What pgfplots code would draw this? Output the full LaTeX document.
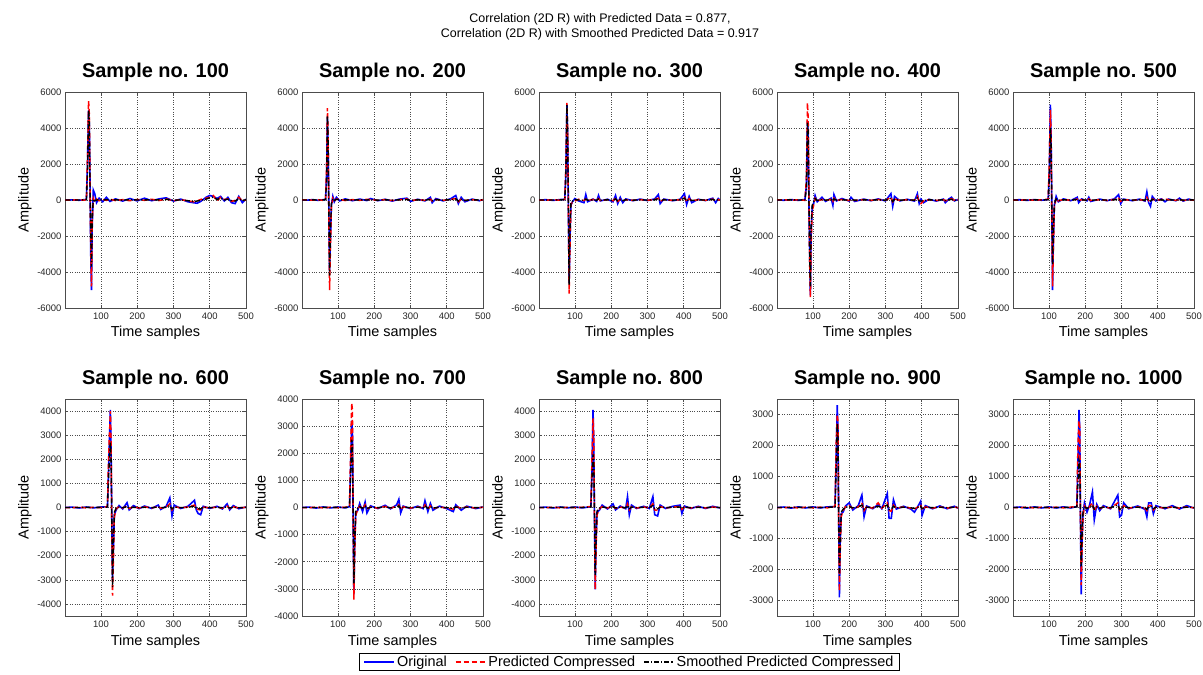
\documentclass[border=0pt]{standalone}
\usepackage{pgfplots}
\usepackage{pgfplotstable}
\pgfplotsset{compat=1.18}
\usepackage{fontspec}
\setmainfont{Liberation Sans}

\pgfplotstableread{
x o p s
1 0 0 0
20 10 -5 0
40 -15 10 0
55 20 -10 5
60 30 40 20
63 2000 2200 1500
66 5000 5500 5000
68 4200 4800 4500
70 1000 800 500
72 -3000 -2500 -2000
74 -5000 -4800 -3700
76 -1500 -1200 -1000
79 550 100 50
83 350 -100 -50
88 -150 50 0
95 100 -40 20
105 -100 30 -10
115 150 -20 20
125 -80 40 0
140 60 -30 10
160 -60 20 -10
180 80 -40 20
200 -50 30 0
220 100 -20 10
240 -40 40 0
260 60 -30 10
280 120 60 40
300 -60 -40 -20
320 50 20 10
340 -100 -50 -40
355 -150 -100 -80
365 -180 -60 -60
375 -80 30 -20
390 150 100 50
400 250 150 120
410 200 250 150
420 80 -50 30
430 200 150 100
440 -50 30 0
450 150 60 50
460 -150 -80 -40
470 -200 -20 -60
480 200 150 80
490 -150 -50 -20
500 50 0 10
}\tA
\pgfplotstableread{
x o p s
1 0 0 0
15 -10 10 0
30 20 -10 5
45 -20 15 0
60 15 -20 5
66 40 30 20
69 1500 2000 1200
71 4600 5100 4700
73 3000 3500 3200
75 -500 -800 -300
77 -4000 -5000 -4200
79 -2500 -3000 -2000
82 -300 -400 -200
86 200 100 50
90 -100 -50 -30
96 150 50 40
105 -50 30 0
120 60 -30 10
140 -40 20 -5
160 50 -20 10
180 -30 40 0
190 80 20 20
210 -40 -20 -10
230 40 20 10
250 -60 -30 -10
270 50 20 10
290 100 60 30
300 -80 -40 -20
320 40 20 10
340 -50 -20 -10
355 150 50 40
360 -150 -60 -40
370 80 30 20
390 -50 -20 -10
410 60 30 20
425 250 80 60
432 -200 -100 -60
440 150 50 40
450 -100 -30 -20
470 50 20 10
490 -40 -20 0
500 20 10 5
}\tB
\pgfplotstableread{
x o p s
1 0 0 0
20 15 -10 0
40 -20 15 0
60 25 -15 5
72 30 40 20
75 1500 1800 1200
78 5300 5400 5300
80 3500 4000 3600
82 -500 -300 -200
84 -4600 -5200 -4700
86 -2500 -3000 -2000
89 -300 -200 -150
93 -100 -150 -80
100 80 -60 20
110 -50 40 0
125 -150 -30 -20
130 300 50 50
135 -100 -20 -10
150 50 30 10
160 -80 -20 -10
165 250 80 60
170 -50 -30 -10
190 40 20 10
205 -100 -40 -20
212 250 100 60
218 -200 -80 -50
225 150 40 30
232 -150 -60 -30
240 60 20 10
260 -40 -20 -10
280 50 20 10
300 -30 -20 -5
320 60 30 10
330 300 100 80
335 -200 -80 -40
345 50 20 10
370 -40 -20 -5
390 40 20 10
402 350 150 100
408 -250 -100 -60
415 200 80 40
422 -150 -50 -30
440 40 20 10
460 -30 -20 -5
480 100 50 30
488 -150 -60 -30
495 80 30 20
500 -20 -10 0
}\tC
\pgfplotstableread{
x o p s
1 0 0 0
20 -15 10 0
40 20 -15 5
60 -20 15 0
78 30 -20 5
82 800 1200 600
85 4400 5400 4300
87 3500 4500 3800
89 -200 500 -100
91 -3000 -3500 -2800
93 -5300 -5400 -4800
95 -2000 -2500 -1500
98 -400 -600 -300
102 -200 -300 -100
106 250 100 80
112 -100 -50 -20
125 150 30 30
135 -80 -30 -10
150 100 40 20
155 -300 -80 -50
158 300 100 60
165 -50 -20 -10
180 80 30 10
200 -60 -30 -10
205 150 50 30
215 -80 -30 -10
240 50 20 10
260 -40 -20 -5
280 60 30 10
300 -50 -20 -10
315 350 150 100
320 -350 -100 -80
325 200 60 40
340 -50 -20 -10
360 40 20 10
380 -60 -20 -10
388 350 200 120
393 -200 -100 -50
398 50 -200 -60
405 -150 -50 -30
420 40 20 10
440 -60 -30 -10
460 50 20 10
465 -150 -50 -30
475 60 30 10
482 150 80 40
490 -50 -20 -10
500 30 10 5
}\tD
\pgfplotstableread{
x o p s
1 0 0 0
20 15 -10 0
40 -20 15 0
60 20 -15 5
80 -15 10 0
98 30 40 20
101 1500 2000 1200
104 5300 5000 4000
106 3500 3500 3200
108 -500 -800 -300
110 -5000 -4800 -3600
112 -2500 -3000 -2000
115 -300 -400 -200
120 200 100 60
126 -100 -50 -20
140 60 30 10
160 -40 -20 -5
178 150 50 30
182 -150 -50 -30
190 60 20 10
205 -50 -20 -10
210 150 60 30
215 -80 -30 -10
240 50 20 10
260 -40 -20 -5
280 60 30 10
292 300 100 60
298 -200 -80 -40
305 50 20 10
330 -40 -20 -5
350 50 20 10
365 -60 -30 -10
370 450 150 100
375 -150 -50 -30
380 -350 -100 -60
385 200 60 40
395 -50 -20 -10
410 60 30 10
420 -100 50 -20
430 50 20 10
450 -40 -20 -5
460 100 50 20
470 -60 -30 -10
485 50 20 10
500 -20 -10 0
}\tE
\pgfplotstableread{
x o p s
1 0 0 0
20 15 -10 0
40 -20 15 0
60 20 -15 5
80 -15 10 0
100 20 -10 5
118 30 40 20
121 1500 2000 1200
124 3000 3200 2200
126 4050 4000 2700
128 2500 2800 2000
130 -500 -800 -300
132 -3000 -3650 -3300
134 -2000 -2500 -1800
137 -300 -400 -200
142 -100 -50 -30
150 80 30 10
160 -60 -20 -10
172 200 60 40
178 -100 -40 -20
190 80 30 10
205 -50 -20 -10
220 60 30 10
240 -40 -20 -5
258 100 40 20
265 -80 -30 -10
280 50 20 10
290 400 150 80
296 -350 -100 -60
302 100 40 20
320 -40 -20 -5
340 50 20 10
358 300 100 60
363 -100 -50 -20
368 -250 -80 -50
375 -300 -100 -60
382 50 20 10
400 -40 -20 -5
420 50 20 10
435 -60 -30 -10
448 150 60 30
455 -100 -40 -20
465 80 30 10
480 -50 -20 -10
500 20 10 5
}\tF
\pgfplotstableread{
x o p s
1 0 0 0
20 15 -10 0
40 -20 15 0
60 20 -15 5
80 -15 10 0
100 20 -10 5
120 -15 10 0
132 30 40 20
135 1500 2000 1200
138 3200 3850 2500
140 2800 3600 2300
142 -500 -300 -200
144 -3200 -3400 -2800
146 -1500 -2000 -1500
149 -200 -300 -150
155 -100 -50 -30
160 150 50 30
168 -150 -50 -30
175 200 100 50
180 -200 -60 -40
190 60 20 10
210 -40 -20 -5
230 80 40 20
245 -50 -20 -10
262 100 40 20
268 300 100 60
273 -200 -80 -40
280 50 20 10
300 -40 -20 -5
320 50 20 10
335 -40 -20 -5
340 250 100 60
348 -150 -60 -30
355 150 60 30
362 -100 -40 -20
380 50 20 10
400 -40 -20 -5
418 -150 -60 -30
425 100 40 20
440 -100 -30 -20
455 50 20 10
480 -40 -20 -5
500 20 10 5
}\tG
\pgfplotstableread{
x o p s
1 0 0 0
20 15 -10 0
40 -20 15 0
60 20 -15 5
80 -15 10 0
100 20 -10 5
120 -15 10 0
144 30 40 20
147 1500 2000 1200
150 4050 3700 2200
152 2500 3000 1800
154 -500 -400 -200
156 -3400 -3400 -2800
158 -1500 -2000 -1500
161 -200 -300 -150
168 -100 -50 -30
175 100 40 20
190 -60 -20 -10
205 150 60 30
212 -100 -40 -20
225 60 20 10
240 -50 -20 -10
245 450 150 80
250 -300 -100 -60
256 100 40 20
270 -40 -20 -5
290 50 20 10
305 -40 -20 -5
315 450 150 80
320 -300 -100 -50
328 -350 -120 -60
335 100 40 20
350 -40 -20 -5
370 50 20 10
390 100 40 20
395 -250 -80 -40
402 60 20 10
420 -40 -20 -5
440 50 20 10
460 -40 -20 -5
480 50 20 10
500 -20 -10 0
}\tH
\pgfplotstableread{
x o p s
1 0 0 0
20 15 -10 0
40 -20 15 0
60 20 -15 5
80 -15 10 0
100 20 -10 5
120 -15 10 0
140 20 -10 5
161 30 40 20
164 1500 2000 1200
167 3300 3000 2700
169 2500 2800 2300
171 -300 -400 -200
173 -2900 -2700 -2200
175 -1200 -1500 -1300
178 -200 -300 -150
183 -150 -100 -60
190 50 30 10
200 150 60 30
210 -80 -30 -10
225 60 20 10
235 400 150 80
241 -300 -100 -60
248 50 20 10
265 -40 -20 -5
280 100 150 40
290 -40 -20 -5
305 450 150 80
310 -350 -100 -60
316 -350 -120 -60
322 250 80 40
330 -50 -20 -10
350 40 20 10
370 -50 -20 -10
380 -150 -50 -30
390 50 20 10
397 200 100 40
401 -250 -80 -40
410 60 20 10
430 -40 -20 -5
450 50 20 10
470 -40 -20 -5
490 40 20 10
500 -20 -10 0
}\tI
\pgfplotstableread{
x o p s
1 0 0 0
20 15 -10 0
40 -20 15 0
60 20 -15 5
80 -15 10 0
100 20 -10 5
120 -15 10 0
140 20 -10 5
160 -15 10 0
177 30 40 20
180 1500 2000 800
183 3150 2800 1500
185 2500 2600 1400
187 -300 -400 -200
189 -2800 -2500 -1900
191 -1200 -1500 -1000
194 -200 -300 -150
198 150 50 30
205 -150 -60 -30
212 80 30 10
220 500 150 80
225 -400 -120 -60
232 100 40 20
240 -100 -40 -20
250 60 20 10
270 -40 -20 -5
290 400 150 80
295 -300 -100 -60
300 -250 -80 -40
306 150 60 30
320 -40 -20 -5
345 50 20 10
365 -60 -30 -10
370 -300 -100 -60
375 150 60 30
382 150 60 30
388 -200 -80 -40
395 60 20 10
420 -40 -20 -5
440 60 20 10
460 -50 -20 -10
480 60 20 10
500 -20 -10 0
}\tJ

\pgfplotsset{
  panel/.style={
    scale only axis, width=181bp,
    xmin=1, xmax=500, xtick={100,200,300,400,500},
    grid=major,
    grid style={dotted, black!70, line width=0.6bp},
    axis line style={black!70, line width=0.8bp},
    tick style={black!70, line width=0.6bp},
    tick align=inside, major tick length=3bp,
    scaled y ticks=false, scaled x ticks=false,
    /pgf/number format/.cd, 1000 sep={}, assume math mode=true, /pgfplots/.cd,
    tick label style={font=\fontsize{9.5}{11}\selectfont, text=black!85},
    title style={font=\fontsize{20}{22}\selectfont\bfseries, at={(0.5,1)}, anchor=base, yshift=9bp},
    xlabel={Time samples}, ylabel={Amplitude},
    label style={font=\fontsize{14.5}{16}\selectfont},
    xlabel style={at={(axis description cs:0.5,0)}, anchor=base, yshift=-29bp},
    ylabel style={at={([xshift=-40bp]axis description cs:0,0.5)}, anchor=center},
    xticklabel style={yshift=-1bp},
  },
  top/.style={height=216bp, ymin=-6000, ymax=6000, ytick={-6000,-4000,-2000,0,2000,4000,6000}},
  orig/.style={blue, line width=1.6bp},
  pred/.style={red, line width=1.5bp, dash pattern=on 5bp off 3bp},
  smoo/.style={black, line width=1.4bp, dash pattern=on 5bp off 2bp on 1.2bp off 2bp},
}
\newcommand\three[1]{%
  \addplot[orig] table[x=x,y=o]{#1};
  \addplot[pred] table[x=x,y=p]{#1};
  \addplot[smoo] table[x=x,y=s]{#1};
}

\begin{document}
\begin{tikzpicture}
\useasboundingbox (0,0) rectangle (1203bp,675bp);
\node[align=center, font=\fontsize{12.5}{14.5}\selectfont] at (600bp,648bp)
  {Correlation (2D R) with Predicted Data = 0.877,\\Correlation (2D R) with Smoothed Predicted Data = 0.917};

\begin{axis}[panel, top, at={(65bp,367bp)}, title={Sample no. 100}]
\three{\tA}
\end{axis}
\begin{axis}[panel, top, at={(302bp,367bp)}, title={Sample no. 200}]
\three{\tB}
\end{axis}
\begin{axis}[panel, top, at={(539bp,367bp)}, title={Sample no. 300}]
\three{\tC}
\end{axis}
\begin{axis}[panel, top, at={(777bp,367bp)}, title={Sample no. 400}]
\three{\tD}
\end{axis}
\begin{axis}[panel, top, at={(1013bp,367bp)}, title={Sample no. 500}]
\three{\tE}
\end{axis}

\begin{axis}[panel, height=217bp, at={(65bp,59bp)}, title={Sample no. 600},
  ymin=-4500, ymax=4500, ytick={-4000,-3000,...,4000}]
\three{\tF}
\end{axis}
\begin{axis}[panel, height=217bp, at={(302bp,59bp)}, title={Sample no. 700},
  ymin=-4000, ymax=4000, ytick={-4000,-3000,...,4000}]
\three{\tG}
\end{axis}
\begin{axis}[panel, height=217bp, at={(539bp,59bp)}, title={Sample no. 800},
  ymin=-4500, ymax=4500, ytick={-4000,-3000,...,4000},
  legend columns=3,
  legend style={at={(0.5,-0.212)}, anchor=center, draw=black, fill=white,
    font=\fontsize{14.5}{16}\selectfont, inner xsep=4bp, inner ysep=0.5bp,
    /tikz/every even column/.append style={column sep=6bp}},
  legend image code/.code={\draw[#1] (0bp,0bp) -- (30bp,0bp);}]
\three{\tH}
\legend{Original, Predicted Compressed, Smoothed Predicted Compressed}
\end{axis}
\begin{axis}[panel, height=217bp, at={(777bp,59bp)}, title={Sample no. 900},
  ymin=-3500, ymax=3500, ytick={-3000,-2000,...,3000}]
\three{\tI}
\end{axis}
\begin{axis}[panel, height=217bp, at={(1013bp,59bp)}, title={Sample no. 1000},
  ymin=-3500, ymax=3500, ytick={-3000,-2000,...,3000}]
\three{\tJ}
\end{axis}
\end{tikzpicture}
\end{document}
